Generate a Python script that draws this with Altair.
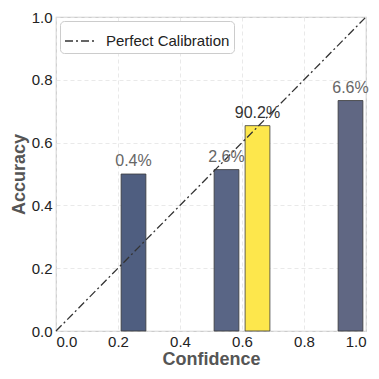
import altair as alt
import pandas as pd

bin_lo = [0.2, 0.5, 0.6, 0.9]
bin_hi = [0.3, 0.6, 0.7, 1.0]
accuracy = [0.50, 0.514, 0.654, 0.734]
share = ["0.4%", "2.6%", "90.2%", "6.6%"]
bar_colors = ["#4f5e80", "#596585", "#fde74c", "#606783"]
label_colors = ["#666666", "#666666", "#333333", "#666666"]

df = pd.DataFrame({
    "lo": [b + 0.01 for b in bin_lo],
    "hi": [b - 0.01 for b in bin_hi],
    "mid": [(a + b) / 2 for a, b in zip(bin_lo, bin_hi)],
    "acc": accuracy,
    "label": share,
    "color": bar_colors,
    "tcolor": label_colors,
})

diag = pd.DataFrame({"x": [0.0, 1.0], "y": [0.0, 1.0], "k": ["Perfect Calibration"] * 2})

font = "Liberation Sans"
xs = alt.Scale(domain=[0, 1], nice=False)
ys = alt.Scale(domain=[0, 1], nice=False)

xaxis = alt.Axis(values=[0, 0.2, 0.4, 0.6, 0.8, 1.0], format=".1f", title="Confidence")
yaxis = alt.Axis(values=[0, 0.2, 0.4, 0.6, 0.8, 1.0], format=".1f", title="Accuracy")

bars = alt.Chart(df).mark_rect(stroke="#3a3a3a", strokeWidth=0.8).encode(
    x=alt.X("lo:Q", scale=xs, axis=xaxis),
    x2="hi:Q",
    y=alt.Y("acc:Q", scale=ys, axis=yaxis),
    y2=alt.datum(0),
    color=alt.Color("color:N", scale=None),
)

labels = alt.Chart(df).mark_text(
    baseline="bottom", dy=-5, fontSize=16, font=font
).encode(
    x=alt.X("mid:Q", scale=xs),
    y=alt.Y("acc:Q", scale=ys),
    text="label:N",
    color=alt.Color("tcolor:N", scale=None),
)

dash = [8, 3, 2, 3]
line = alt.Chart(diag).mark_line(strokeWidth=1.3, color="#333333").encode(
    x=alt.X("x:Q", scale=xs),
    y=alt.Y("y:Q", scale=ys),
    strokeDash=alt.StrokeDash(
        "k:N",
        scale=alt.Scale(domain=["Perfect Calibration"], range=[dash]),
        legend=alt.Legend(
            title=None,
            orient="top-left",
            offset=4,
            symbolType="stroke",
            symbolStrokeColor="#333333",
            symbolStrokeWidth=1.3,
            symbolSize=900,
            symbolDash=dash,
            labelFontSize=15,
            labelFont=font,
            labelColor="#222222",
            labelOffset=10,
            fillColor="white",
            strokeColor="#cccccc",
            cornerRadius=4,
            padding=4,
        ),
    ),
)

chart = alt.layer(bars, line, labels).properties(
    width=310,
    height=314,
    autosize=alt.AutoSizeParams(type="none"),
    padding={"left": 48, "top": 9, "right": 5, "bottom": 40},
).configure_view(
    stroke="#cccccc", strokeWidth=1.2
).configure_axis(
    grid=True,
    gridColor="#e3e3e3",
    gridDash=[4, 3],
    gridWidth=0.8,
    domain=False,
    ticks=False,
    labelFont=font,
    labelFontSize=15,
    labelColor="#222222",
    titleFont=font,
    titleFontSize=18,
    titleFontWeight="bold",
    titleColor="#555555",
).configure_axisX(titlePadding=1, labelPadding=3).configure_axisY(titlePadding=3, labelPadding=4)

chart.save("out.html", embed_options={"renderer": "svg", "actions": False})
